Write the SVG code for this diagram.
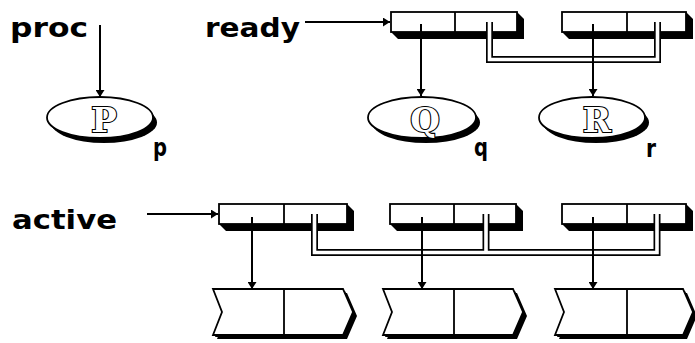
<svg xmlns="http://www.w3.org/2000/svg" width="695" height="343" viewBox="0 0 695 343">
<style>
.lbl{font-family:"DejaVu Sans","Liberation Sans",sans-serif;font-weight:bold;fill:#000}
.big{font-size:27px}
.sm{font-size:24px}
.let{font-family:"DejaVu Serif","Liberation Serif",serif;font-weight:bold;font-size:34px;fill:#fff;stroke:#000;stroke-width:2.2;text-anchor:middle;paint-order:stroke}
.front{fill:#fff;stroke:#000;stroke-width:1.8}
.shadow{fill:#000}
.div{stroke:#000;stroke-width:1.8}
.arr{stroke:#000;stroke-width:2;fill:none;marker-end:url(#ah)}
.dblo{stroke:#000;stroke-width:7;fill:none;stroke-linejoin:miter}
.dbli{stroke:#fff;stroke-width:3.6;fill:none;stroke-linejoin:miter}
</style>
<defs>
<marker id="ah" markerUnits="userSpaceOnUse" viewBox="0 0 7 9" markerWidth="7" markerHeight="9" refX="7" refY="4.5" orient="auto">
<path d="M0,0 L7,4.5 L0,9 z" fill="#000"/>
</marker>
</defs>

<g id="labels">
<text class="lbl big" x="10" y="37" textLength="78" lengthAdjust="spacingAndGlyphs">proc</text>
<text class="lbl big" x="205" y="37" textLength="95" lengthAdjust="spacingAndGlyphs">ready</text>
<text class="lbl big" x="12" y="229" textLength="105" lengthAdjust="spacingAndGlyphs">active</text>
</g>

<g id="node-P">
<ellipse class="shadow" cx="102" cy="120" rx="53" ry="20.5"/>
<ellipse class="shadow" cx="104" cy="122.5" rx="53" ry="20.5"/>
<ellipse class="front" cx="100" cy="117.5" rx="53" ry="20.5"/>
<text class="let" x="104" y="132">P</text>
<text class="lbl sm" x="153" y="156" textLength="14" lengthAdjust="spacingAndGlyphs">p</text>
</g>
<g id="node-Q">
<ellipse class="shadow" cx="424" cy="120" rx="54" ry="20.5"/>
<ellipse class="shadow" cx="426" cy="122.5" rx="54" ry="20.5"/>
<ellipse class="front" cx="422" cy="117.5" rx="54" ry="20.5"/>
<text class="let" x="425" y="132">Q</text>
<text class="lbl sm" x="474" y="156" textLength="14" lengthAdjust="spacingAndGlyphs">q</text>
</g>
<g id="node-R">
<ellipse class="shadow" cx="594" cy="120" rx="53" ry="20.5"/>
<ellipse class="shadow" cx="596" cy="122.5" rx="53" ry="20.5"/>
<ellipse class="front" cx="592" cy="117.5" rx="53" ry="20.5"/>
<text class="let" x="597" y="132">R</text>
<text class="lbl sm" x="646" y="157" textLength="10" lengthAdjust="spacingAndGlyphs">r</text>
</g>

<g id="ready-box-1">
<polygon class="shadow" points="391,12 517,12 524,19 524,39 398,39 391,32"/>
<rect class="front" x="391" y="12" width="126" height="20"/>
<line class="div" x1="455" y1="12" x2="455" y2="32"/>
</g>
<g id="ready-box-2">
<polygon class="shadow" points="562,12 686,12 693,19 693,39 569,39 562,32"/>
<rect class="front" x="562" y="12" width="124" height="20"/>
<line class="div" x1="627" y1="12" x2="627" y2="32"/>
</g>

<g id="active-box-1">
<polygon class="shadow" points="219,204 347,204 354,211 354,231 226,231 219,224"/>
<rect class="front" x="219" y="204" width="128" height="20"/>
<line class="div" x1="284" y1="204" x2="284" y2="224"/>
</g>
<g id="active-box-2">
<polygon class="shadow" points="390,204 516,204 523,211 523,231 397,231 390,224"/>
<rect class="front" x="390" y="204" width="126" height="20"/>
<line class="div" x1="454" y1="204" x2="454" y2="224"/>
</g>
<g id="active-box-3">
<polygon class="shadow" points="562,204 686,204 693,211 693,231 569,231 562,224"/>
<rect class="front" x="562" y="204" width="124" height="20"/>
<line class="div" x1="627" y1="204" x2="627" y2="224"/>
</g>

<g id="chevron-1">
<polygon class="shadow" points="215,291 345,291 355,314 345,337 215,337 224,314"/>
<polygon class="shadow" points="217,293 347,293 357,316 347,339 217,339 226,316"/>
<polygon class="front" points="213,289 343,289 353,312 343,335 213,335 222,312"/>
<line class="div" x1="284" y1="289" x2="284" y2="335"/>
</g>
<g id="chevron-2">
<polygon class="shadow" points="385,291 515,291 525,314 515,337 385,337 394,314"/>
<polygon class="shadow" points="387,293 517,293 527,316 517,339 387,339 396,316"/>
<polygon class="front" points="383,289 513,289 523,312 513,335 383,335 392,312"/>
<line class="div" x1="454" y1="289" x2="454" y2="335"/>
</g>
<g id="chevron-3">
<polygon class="shadow" points="557,291 685,291 695,314 685,337 557,337 566,314"/>
<polygon class="shadow" points="559,293 687,293 697,316 687,339 559,339 568,316"/>
<polygon class="front" points="555,289 683,289 693,312 683,335 555,335 564,312"/>
<line class="div" x1="627" y1="289" x2="627" y2="335"/>
</g>

<g id="connectors">
<path class="dblo" d="M489.5,22 V59.5 H657.5 V22"/>
<path class="dbli" d="M489.5,22 V59.5 H657.5 V22"/>
<path class="dblo" d="M314.5,214 V252.5 H657 V214 M486,214 V252.5"/>
<path class="dbli" d="M314.5,214 V252.5 H657 V214 M486,214 V252.5"/>
<line class="arr" x1="100" y1="25" x2="100" y2="97"/>
<line class="arr" x1="305" y1="22" x2="390" y2="22"/>
<line class="arr" x1="421" y1="24" x2="421" y2="96"/>
<line class="arr" x1="593" y1="24" x2="593" y2="96"/>
<line class="arr" x1="147" y1="214" x2="218" y2="214"/>
<line class="arr" x1="252" y1="217" x2="252" y2="289"/>
<line class="arr" x1="422" y1="217" x2="422" y2="289"/>
<line class="arr" x1="593" y1="217" x2="593" y2="289"/>
</g>
</svg>
